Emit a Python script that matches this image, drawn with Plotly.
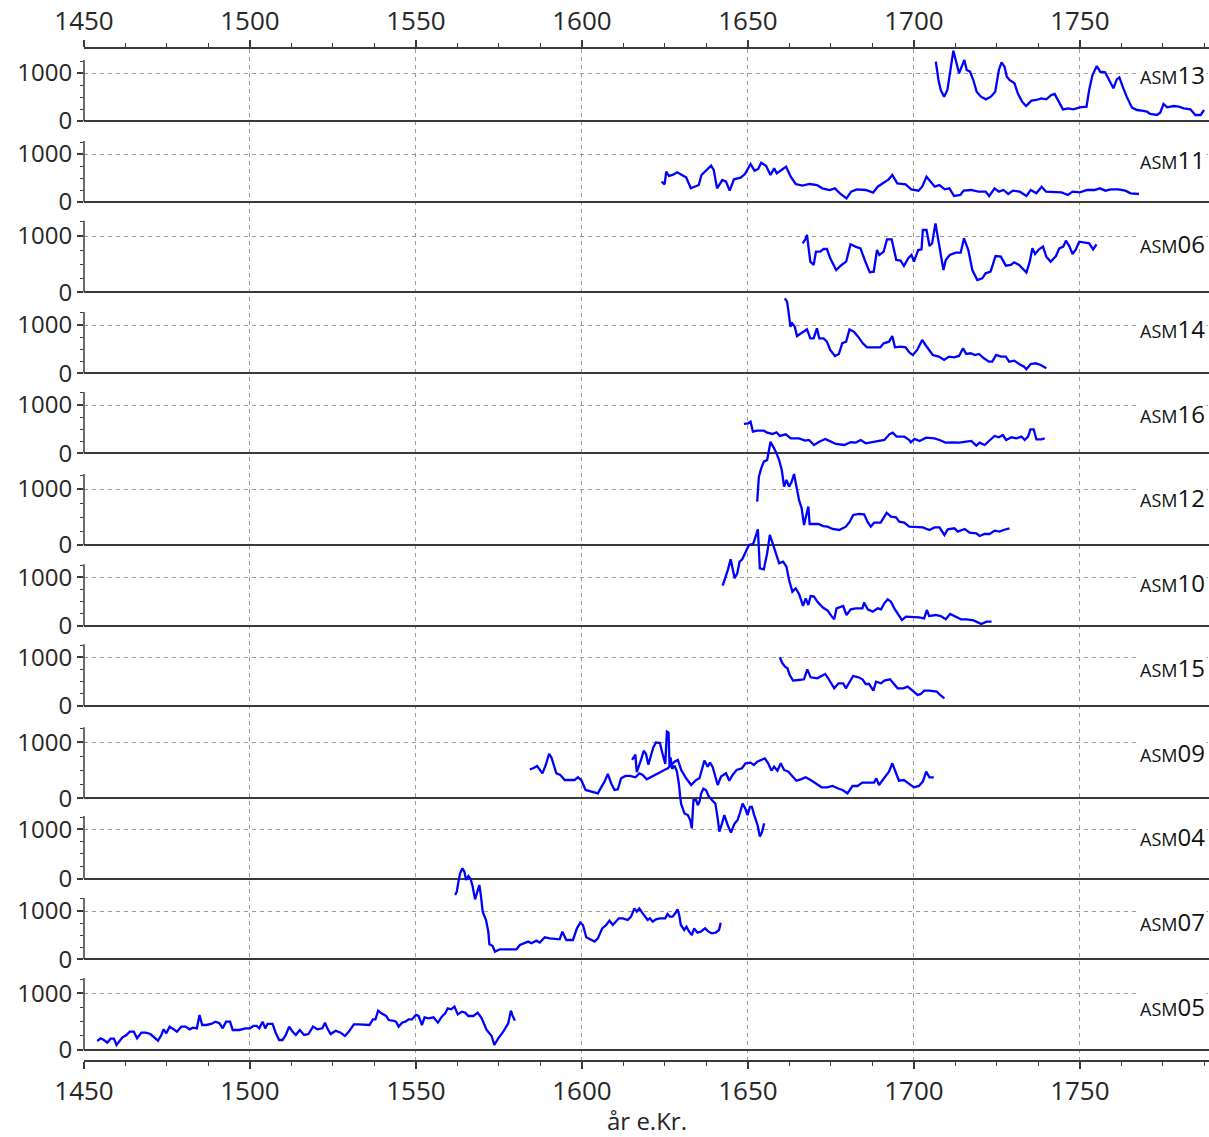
import plotly.graph_objects as go

# ---- series: year and value per core ----
asm13_year = [1706.6, 1707.4, 1708.1, 1709.1, 1710.1, 1711.1, 1711.9, 1712.6, 1713.6, 1714.4, 1715.2, 1715.9,
              1716.9, 1717.9, 1718.9, 1720.2, 1721.7, 1723.2, 1724.5, 1725.6, 1726.4, 1727.3, 1728.0, 1728.8,
              1730.3, 1731.3, 1732.6, 1733.8, 1735.4, 1736.9, 1738.4, 1739.9, 1741.4, 1742.4, 1743.4, 1744.9,
              1746.5, 1748.0, 1750.0, 1752.0, 1752.8, 1753.8, 1755.1, 1756.1, 1757.6, 1758.9, 1760.1, 1761.1,
              1761.9, 1762.9, 1764.1, 1765.7, 1767.2, 1768.7, 1770.2, 1771.2, 1773.2, 1774.2, 1775.2, 1776.3,
              1778.3, 1779.8, 1781.3, 1783.3, 1784.8, 1786.4, 1787.4]
asm13_val = [1236, 854, 646, 507, 646, 1063, 1465, 1271, 993, 1132, 1271, 1063,
             1028, 854, 611, 507, 451, 507, 611, 1063, 1222, 1132, 924, 854,
             785, 576, 403, 312, 424, 438, 472, 451, 542, 563, 438, 243,
             264, 243, 285, 299, 646, 958, 1146, 1028, 1014, 854, 681, 868,
             910, 715, 507, 278, 229, 215, 194, 146, 125, 174, 354, 285,
             312, 299, 264, 243, 125, 125, 229]

asm11_year = [1624.0, 1624.9, 1625.4, 1626.2, 1627.3, 1628.7, 1630.1, 1631.4, 1632.8, 1634.2, 1635.2, 1636.0,
              1637.4, 1638.9, 1639.7, 1640.7, 1642.3, 1643.4, 1644.5, 1645.8, 1647.8, 1649.1, 1650.8, 1652.0,
              1653.1, 1654.0, 1655.5, 1656.8, 1657.9, 1658.7, 1660.1, 1661.5, 1662.9, 1664.4, 1666.4, 1668.6,
              1670.8, 1672.4, 1674.6, 1676.2, 1677.9, 1679.7, 1681.1, 1682.8, 1685.5, 1687.7, 1689.1, 1690.7,
              1692.4, 1693.5, 1695.0, 1697.5, 1699.2, 1701.4, 1702.5, 1703.8, 1705.0, 1706.3, 1707.7, 1709.3,
              1710.7, 1712.1, 1714.0, 1715.0, 1717.2, 1719.4, 1721.6, 1722.7, 1724.3, 1725.6, 1727.0, 1728.4,
              1729.8, 1731.9, 1733.9, 1735.2, 1736.9, 1738.5, 1739.8, 1742.3, 1744.5, 1746.4, 1747.8, 1750.0,
              1752.2, 1754.4, 1756.0, 1757.7, 1759.3, 1761.5, 1763.7, 1765.3, 1767.8]
asm11_val = [424, 368, 632, 542, 563, 618, 563, 514, 285, 319, 354, 563,
             667, 757, 667, 285, 458, 424, 236, 472, 507, 583, 792, 653,
             688, 819, 750, 563, 701, 597, 667, 736, 528, 375, 340, 375,
             354, 285, 250, 285, 167, 76, 215, 264, 250, 194, 319, 389,
             472, 563, 389, 368, 264, 236, 319, 528, 424, 319, 354, 264,
             285, 125, 146, 236, 250, 215, 215, 125, 285, 215, 250, 167,
             236, 215, 125, 250, 181, 319, 215, 201, 201, 146, 215, 201,
             250, 250, 285, 236, 264, 264, 236, 181, 167]

asm06_year = [1666.5, 1667.3, 1667.8, 1668.3, 1668.8, 1669.8, 1670.5, 1671.8, 1672.8, 1673.8, 1674.8, 1676.6,
              1678.2, 1679.6, 1680.9, 1682.4, 1683.9, 1685.2, 1686.7, 1687.9, 1688.9, 1689.6, 1690.9, 1691.9,
              1693.3, 1694.7, 1696.0, 1697.0, 1698.3, 1699.3, 1700.0, 1701.3, 1702.3, 1702.7, 1703.8, 1704.7,
              1705.5, 1706.5, 1707.3, 1708.0, 1708.9, 1709.6, 1710.8, 1712.6, 1714.1, 1715.1, 1716.4, 1717.6,
              1719.1, 1720.6, 1721.6, 1723.1, 1724.6, 1726.2, 1727.7, 1729.2, 1730.2, 1731.7, 1732.9, 1733.9,
              1734.9, 1735.7, 1736.5, 1737.7, 1738.9, 1739.9, 1741.2, 1742.8, 1743.8, 1745.0, 1745.8, 1746.8,
              1747.8, 1748.8, 1749.8, 1751.3, 1752.8, 1754.0, 1755.0]
asm06_val = [870, 941, 1018, 811, 544, 485, 722, 722, 769, 769, 604, 396,
             485, 544, 852, 811, 781, 574, 355, 367, 751, 663, 722, 941,
             941, 574, 562, 467, 604, 663, 544, 751, 763, 1107, 1107, 822,
             870, 1225, 959, 722, 396, 574, 663, 704, 704, 959, 751, 396,
             219, 249, 337, 367, 645, 633, 473, 485, 533, 485, 408, 349,
             544, 781, 680, 763, 811, 633, 544, 645, 781, 811, 917, 822,
             680, 763, 899, 882, 870, 763, 852]

asm14_year = [1661.1, 1661.8, 1662.3, 1662.8, 1663.3, 1664.1, 1664.8, 1665.8, 1666.8, 1667.8, 1668.8, 1669.8,
              1670.8, 1671.5, 1672.8, 1673.8, 1674.8, 1676.2, 1677.4, 1678.4, 1679.6, 1680.6, 1681.9, 1683.2,
              1684.6, 1685.9, 1687.9, 1689.9, 1690.9, 1692.5, 1693.5, 1694.3, 1696.0, 1697.5, 1698.7, 1699.7,
              1701.0, 1702.5, 1703.5, 1704.5, 1705.7, 1707.5, 1709.1, 1710.6, 1712.1, 1713.6, 1714.8, 1715.8,
              1717.1, 1718.4, 1719.6, 1721.1, 1722.6, 1723.6, 1724.8, 1726.2, 1727.7, 1728.7, 1730.2, 1731.7,
              1733.2, 1733.9, 1735.2, 1736.7, 1738.2, 1739.9]
asm14_val = [1552, 1483, 1241, 966, 1034, 966, 772, 814, 862, 910, 724, 724,
             931, 724, 724, 655, 483, 359, 400, 621, 655, 910, 862, 759,
             621, 538, 538, 538, 621, 655, 772, 538, 552, 538, 428, 379,
             483, 690, 586, 483, 379, 345, 276, 345, 331, 359, 517, 400,
             414, 379, 400, 310, 241, 241, 379, 345, 345, 241, 262, 193,
             138, 83, 193, 207, 172, 103]

asm16_year = [1648.8, 1650.1, 1650.8, 1651.5, 1652.8, 1654.8, 1655.8, 1657.4, 1658.6, 1659.6, 1661.4, 1662.9,
              1665.4, 1667.2, 1668.4, 1669.9, 1671.5, 1673.3, 1675.0, 1676.5, 1679.0, 1681.0, 1682.5, 1684.0,
              1685.5, 1687.5, 1689.5, 1691.1, 1692.6, 1693.6, 1694.8, 1697.1, 1698.6, 1699.1, 1700.2, 1701.7,
              1703.7, 1706.2, 1707.7, 1709.5, 1711.7, 1713.7, 1715.8, 1717.3, 1718.8, 1719.8, 1721.3, 1722.8,
              1724.3, 1725.6, 1726.8, 1727.8, 1729.4, 1730.9, 1732.4, 1733.4, 1734.4, 1735.1, 1736.1, 1736.9,
              1738.4, 1739.4]
asm16_val = [607, 621, 655, 448, 469, 469, 428, 400, 434, 359, 393, 310,
             310, 262, 276, 172, 241, 297, 241, 193, 172, 228, 221, 276,
             207, 228, 255, 276, 393, 428, 345, 345, 276, 228, 297, 255,
             324, 310, 276, 221, 228, 221, 241, 255, 159, 221, 172, 276,
             359, 331, 379, 276, 331, 310, 345, 276, 345, 497, 497, 290,
             290, 310]

asm12_year = [1652.8, 1653.3, 1654.0, 1654.8, 1655.8, 1656.3, 1656.8, 1657.6, 1658.4, 1659.4, 1660.2, 1660.9,
              1661.6, 1662.4, 1663.2, 1663.9, 1664.6, 1665.4, 1666.2, 1666.9, 1667.6, 1668.2, 1668.6, 1669.9,
              1671.2, 1672.7, 1674.0, 1675.5, 1677.5, 1679.5, 1680.7, 1681.7, 1683.5, 1685.0, 1686.0, 1687.0,
              1688.0, 1690.0, 1691.8, 1693.1, 1694.6, 1695.6, 1697.1, 1698.6, 1700.7, 1702.7, 1704.7, 1706.2,
              1707.7, 1709.2, 1710.2, 1712.2, 1713.2, 1715.3, 1716.8, 1718.8, 1719.8, 1721.3, 1722.8, 1724.3,
              1725.8, 1727.0, 1728.8]
asm12_val = [774, 1220, 1369, 1488, 1518, 1696, 1845, 1756, 1667, 1518, 1339, 1042,
             1161, 1042, 1131, 1268, 1042, 804, 655, 357, 536, 685, 375, 375,
             375, 339, 327, 286, 268, 327, 417, 536, 554, 548, 417, 327,
             399, 399, 577, 506, 494, 417, 399, 327, 315, 315, 268, 315,
             315, 179, 280, 298, 238, 286, 220, 208, 161, 196, 196, 256,
             238, 268, 298]

asm10_year = [1642.4, 1643.2, 1644.0, 1644.8, 1645.3, 1646.0, 1646.8, 1647.5, 1648.3, 1649.3, 1650.3, 1651.6,
              1652.3, 1653.0, 1653.6, 1654.8, 1655.8, 1656.6, 1657.6, 1658.6, 1659.4, 1660.6, 1661.6, 1662.4,
              1663.4, 1664.4, 1665.4, 1666.6, 1667.4, 1668.2, 1668.9, 1669.9, 1670.9, 1672.5, 1674.0, 1675.3,
              1676.0, 1676.7, 1677.7, 1678.7, 1679.7, 1681.0, 1682.5, 1684.5, 1685.0, 1686.1, 1687.6, 1689.1,
              1690.1, 1691.1, 1692.1, 1693.1, 1694.1, 1695.6, 1696.4, 1697.6, 1699.6, 1701.6, 1703.1, 1703.9,
              1704.6, 1706.6, 1708.1, 1709.6, 1710.9, 1712.7, 1714.2, 1715.8, 1717.6, 1718.8, 1720.3, 1721.9,
              1723.4]
asm10_val = [829, 979, 1164, 1370, 1219, 979, 1082, 1322, 1370, 1527, 1664, 1685,
             1836, 1986, 1185, 1164, 1493, 1870, 1664, 1425, 1288, 1322, 1219, 945,
             705, 774, 658, 411, 568, 432, 616, 603, 500, 384, 315, 192,
             137, 363, 384, 411, 226, 342, 363, 363, 479, 342, 295, 363,
             342, 466, 548, 500, 363, 192, 123, 192, 192, 178, 158, 329,
             205, 226, 205, 137, 247, 178, 137, 137, 123, 89, 41, 89,
             89]

asm15_year = [1659.6, 1660.4, 1661.2, 1661.9, 1662.6, 1663.6, 1665.2, 1666.9, 1667.9, 1668.9, 1670.9, 1671.9,
              1673.3, 1674.5, 1676.0, 1677.3, 1678.7, 1679.5, 1680.5, 1681.7, 1683.3, 1684.5, 1685.5, 1686.5,
              1687.8, 1688.6, 1690.1, 1691.1, 1692.8, 1694.1, 1695.1, 1696.8, 1698.1, 1699.6, 1701.1, 1702.1,
              1703.1, 1704.6, 1706.9, 1707.9, 1709.2]
asm15_val = [1000, 877, 808, 774, 637, 521, 534, 548, 753, 589, 568, 603,
             658, 534, 363, 466, 466, 363, 466, 616, 589, 548, 452, 452,
             315, 500, 466, 521, 548, 432, 363, 363, 397, 315, 226, 247,
             315, 315, 295, 226, 158]

asm09_year = [1584.3, 1585.3, 1586.5, 1587.3, 1588.1, 1589.1, 1590.1, 1590.8, 1591.5, 1592.3, 1593.5, 1594.8,
              1596.5, 1597.8, 1598.8, 1599.8, 1601.1, 1602.8, 1604.8, 1605.8, 1606.8, 1607.8, 1608.8, 1609.8,
              1610.8, 1611.8, 1613.1, 1614.5, 1616.1, 1617.3, 1618.3, 1619.5, 1620.8, 1622.1, 1623.3, 1624.8,
              1625.9, 1626.9, 1627.9, 1628.9, 1629.9, 1631.4, 1632.9, 1634.4, 1635.4, 1636.9, 1637.9, 1638.6,
              1639.4, 1640.9, 1641.9, 1643.4, 1644.4, 1645.4, 1646.6, 1648.2, 1649.3, 1650.8, 1651.8, 1652.8,
              1654.3, 1655.1, 1656.1, 1657.1, 1657.9, 1658.9, 1659.9, 1660.9, 1662.2, 1663.4, 1664.6, 1665.9,
              1667.4, 1668.9, 1670.4, 1672.2, 1673.9, 1675.5, 1677.0, 1678.5, 1680.0, 1681.5, 1683.0, 1684.5,
              1686.5, 1688.0, 1688.7, 1689.5, 1691.0, 1692.5, 1693.5, 1694.5, 1695.5, 1697.0, 1698.5, 1700.0,
              1701.5, 1702.7, 1703.7, 1704.7, 1706.0]
asm09_val = [518, 536, 577, 506, 446, 595, 792, 732, 595, 446, 417, 327,
             327, 327, 375, 327, 149, 119, 89, 196, 298, 435, 268, 149,
             161, 357, 399, 399, 375, 446, 417, 339, 375, 417, 458, 506,
             536, 595, 655, 685, 506, 357, 238, 327, 357, 673, 565, 637,
             554, 238, 387, 446, 315, 417, 506, 536, 625, 637, 595, 655,
             696, 714, 625, 494, 565, 494, 625, 506, 476, 387, 315, 339,
             375, 327, 268, 196, 196, 220, 179, 149, 89, 220, 220, 280,
             280, 280, 357, 238, 357, 476, 625, 476, 315, 327, 268, 196,
             220, 298, 476, 375, 375]

asm04_year = [1615.1, 1615.6, 1616.1, 1616.5, 1617.1, 1617.8, 1618.6, 1619.3, 1620.0, 1620.8, 1621.5, 1622.3,
              1623.5, 1624.3, 1625.1, 1625.6, 1626.1, 1626.4, 1626.7, 1627.2, 1627.9, 1628.6, 1629.2, 1629.6,
              1629.9, 1630.9, 1631.9, 1632.6, 1633.1, 1633.6, 1634.4, 1634.9, 1635.4, 1635.9, 1636.6, 1637.4,
              1638.2, 1639.2, 1640.2, 1640.9, 1641.4, 1642.2, 1642.9, 1643.9, 1644.9, 1645.9, 1646.9, 1647.6,
              1648.4, 1649.2, 1649.9, 1650.6, 1651.2, 1651.9, 1652.9, 1653.6, 1654.2, 1654.9]
asm04_val = [2409, 2463, 2517, 2161, 2262, 2409, 2597, 2530, 2315, 2530, 2664, 2765,
             2752, 2530, 2329, 2987, 2966, 2262, 2463, 2228, 2295, 2181, 1926, 1658,
             1510, 1322, 1289, 1188, 1020, 1591, 1591, 1490, 1557, 1725, 1826, 1792,
             1671, 1591, 1523, 1221, 953, 1121, 1289, 1087, 933, 1107, 1188, 1336,
             1523, 1423, 1289, 1456, 1456, 1289, 1087, 852, 933, 1121]

asm07_year = [1561.8, 1562.3, 1562.8, 1563.3, 1564.0, 1564.6, 1565.1, 1565.8, 1566.5, 1567.1, 1567.8, 1568.5,
              1569.1, 1569.6, 1570.1, 1571.1, 1571.8, 1572.1, 1573.1, 1573.8, 1575.3, 1577.3, 1580.3, 1581.3,
              1582.8, 1583.8, 1584.8, 1586.3, 1587.3, 1588.8, 1590.3, 1592.3, 1593.3, 1594.1, 1595.3, 1597.3,
              1598.5, 1599.5, 1600.3, 1601.3, 1602.3, 1603.8, 1604.8, 1606.1, 1607.3, 1608.3, 1609.3, 1610.3,
              1611.1, 1612.3, 1613.8, 1614.8, 1615.8, 1616.5, 1617.3, 1618.3, 1619.8, 1620.5, 1621.3, 1622.3,
              1623.5, 1625.1, 1625.8, 1626.5, 1627.3, 1628.1, 1628.8, 1629.3, 1629.8, 1630.8, 1631.5, 1632.3,
              1633.1, 1633.8, 1634.8, 1635.8, 1637.1, 1638.1, 1639.1, 1640.3, 1641.3, 1641.8]
asm07_val = [1331, 1400, 1607, 1779, 1883, 1814, 1641, 1724, 1655, 1503, 1241, 1400,
             1538, 1297, 986, 814, 572, 317, 276, 159, 207, 207, 207, 297,
             331, 366, 331, 386, 345, 455, 434, 414, 414, 572, 400, 400,
             641, 759, 710, 455, 414, 366, 434, 641, 710, 800, 710, 800,
             848, 848, 814, 883, 1055, 986, 1055, 952, 814, 848, 779, 828,
             848, 848, 938, 883, 883, 952, 1034, 917, 710, 607, 676, 572,
             503, 641, 552, 572, 641, 572, 538, 552, 607, 759]

asm05_year = [1454.0, 1455.0, 1456.0, 1457.0, 1458.0, 1459.0, 1459.8, 1460.6, 1461.6, 1462.8, 1463.8, 1465.0,
              1466.0, 1467.3, 1468.6, 1470.0, 1471.3, 1472.3, 1473.3, 1474.0, 1474.8, 1475.8, 1477.0, 1478.0,
              1479.3, 1480.6, 1481.8, 1482.8, 1484.0, 1484.8, 1485.6, 1486.8, 1488.3, 1489.6, 1490.8, 1491.8,
              1492.8, 1494.0, 1494.8, 1496.8, 1498.6, 1500.0, 1501.0, 1502.0, 1502.8, 1503.8, 1504.6, 1505.3,
              1506.8, 1507.8, 1508.8, 1509.8, 1510.8, 1511.8, 1512.8, 1513.8, 1515.0, 1516.3, 1517.6, 1519.0,
              1520.3, 1521.8, 1522.6, 1523.3, 1524.3, 1525.8, 1527.3, 1528.6, 1529.8, 1531.3, 1532.8, 1534.8,
              1536.0, 1537.0, 1537.8, 1538.6, 1539.6, 1541.0, 1541.8, 1543.3, 1544.0, 1544.8, 1545.8, 1546.8,
              1547.8, 1548.8, 1550.0, 1550.8, 1551.8, 1552.6, 1553.8, 1555.3, 1556.6, 1557.8, 1558.8, 1559.6,
              1560.6, 1561.6, 1562.6, 1563.8, 1564.8, 1565.8, 1567.3, 1568.6, 1569.8, 1571.3, 1572.8, 1573.6,
              1574.8, 1576.3, 1577.8, 1578.6, 1579.0, 1579.8]
asm05_val = [159, 206, 176, 129, 200, 200, 88, 147, 224, 265, 324, 324,
             206, 306, 306, 282, 206, 165, 265, 365, 294, 412, 365, 324,
             412, 412, 365, 394, 382, 618, 441, 441, 459, 500, 471, 382,
             500, 500, 353, 353, 382, 382, 424, 424, 382, 500, 382, 459,
             459, 294, 176, 176, 265, 412, 324, 265, 353, 265, 282, 412,
             365, 382, 482, 382, 282, 341, 306, 247, 324, 453, 453, 441,
             441, 541, 541, 694, 647, 600, 529, 512, 500, 412, 482, 500,
             541, 541, 618, 600, 441, 576, 559, 576, 482, 588, 647, 735,
             718, 765, 629, 676, 659, 600, 600, 659, 559, 353, 247, 88,
             206, 324, 471, 694, 618, 518]

# panel order, top to bottom
panel_names = ["ASM13", "ASM11", "ASM06", "ASM14", "ASM16", "ASM12",
               "ASM10", "ASM15", "ASM09", "ASM04", "ASM07", "ASM05"]
panel_years = [asm13_year, asm11_year, asm06_year, asm14_year, asm16_year, asm12_year,
               asm10_year, asm15_year, asm09_year, asm04_year, asm07_year, asm05_year]
panel_vals = [asm13_val, asm11_val, asm06_val, asm14_val, asm16_val, asm12_val,
              asm10_val, asm15_val, asm09_val, asm04_val, asm07_val, asm05_val]

y_ticks = [0, 1000]
y_minor = [250, 500, 750, 1250]
x_range = [1450, 1788.9]

# ---- layout geometry (pixels) ----
W, H = 1209, 1137
TOP, BOTTOM = 49, 1060          # plot area edges
LEFT = 84
# pixel row of each panel's 0 line, 1000 line and name label
zero_px = [121, 202, 292.3, 373.3, 453.3, 545, 626, 706, 798.3, 878.5, 959.3, 1050]
k_px = [73, 154, 236, 325, 405, 489, 577.3, 657.3, 742.3, 829.3, 911, 993.3]
label_px = [74, 159, 243, 328, 413, 497, 582, 667, 752, 836, 921, 1006]

FONT = "Open Sans"
TXT = "#262626"
AX = "#3a3a3a"

fig = go.Figure()
layout = dict(
    width=W, height=H,
    margin=dict(l=LEFT, r=0, t=TOP, b=H - BOTTOM, pad=0),
    paper_bgcolor="white", plot_bgcolor="white",
    showlegend=False,
    font=dict(family=FONT, size=24, color=TXT),
)

shapes = []
annotations = []
for i, (name, xs, ys) in enumerate(zip(panel_names, panel_years, panel_vals)):
    ax_id = "y" if i == 0 else f"y{i + 1}"
    ax_key = "yaxis" if i == 0 else f"yaxis{i + 1}"
    per = 1000.0 / (zero_px[i] - k_px[i])
    lo = -(BOTTOM - zero_px[i]) * per
    hi = (zero_px[i] - TOP) * per
    ax = dict(
        domain=[0, 1], range=[lo, hi], anchor="x", side="left",
        tickmode="array", tickvals=y_ticks, ticktext=[str(v) for v in y_ticks],
        ticks="outside", ticklen=6, tickwidth=1.5, tickcolor=AX,
        tickfont=dict(family=FONT, size=24, color=TXT),
        showgrid=True, gridcolor="#9a9a9a", gridwidth=1, griddash="4px,4px",
        zeroline=True, zerolinecolor=AX, zerolinewidth=1.6,
        showline=False, fixedrange=True,
        minor=dict(tickmode="array", tickvals=y_minor, ticks="outside",
                   ticklen=3, tickwidth=1.2, tickcolor=AX, showgrid=False),
    )
    if i > 0:
        ax["overlaying"] = "y"
    layout[ax_key] = ax

    fig.add_trace(go.Scatter(x=xs, y=ys, mode="lines", name=name,
                             xaxis="x", yaxis=ax_id,
                             line=dict(color="#0000ff", width=2.3)))

    # left spine of this panel
    shapes.append(dict(type="line", xref="paper", x0=0, x1=0,
                       yref=ax_id, y0=0, y1=1270,
                       line=dict(color=AX, width=1.5)))

    annotations.append(dict(
        xref="paper", x=0.9985, xanchor="right",
        yref=ax_id, y=1000, yanchor="middle", yshift=-(label_px[i] - k_px[i]),
        text=f"<span style='font-size:18px'>{name[:3]}</span>{name[3:]}",
        showarrow=False, bgcolor="white",
        font=dict(family=FONT, size=24, color="#111111"),
    ))

xcommon = dict(
    range=x_range, tickmode="linear", tick0=1450, dtick=50,
    ticks="outside", ticklen=7, tickwidth=1.5, tickcolor=AX,
    showline=True, linecolor=AX, linewidth=1.6,
    tickfont=dict(family=FONT, size=26, color=TXT),
    zeroline=False, fixedrange=True,
    minor=dict(dtick=12.5, ticks="outside", ticklen=4, tickwidth=1.2, tickcolor=AX, showgrid=False),
)
layout["xaxis"] = dict(xcommon, side="bottom", anchor="y",
                       showgrid=True, gridcolor="#9a9a9a", gridwidth=1, griddash="4px,4px")
layout["xaxis2"] = dict(xcommon, side="top", anchor="y", overlaying="x", matches="x", showgrid=False)

# empty trace so the top axis is rendered
fig.add_trace(go.Scatter(x=[], y=[], xaxis="x2", yaxis="y", showlegend=False))

annotations.append(dict(
    xref="paper", x=0.5, xanchor="center",
    yref="paper", y=-(1120 - BOTTOM) / (BOTTOM - TOP), yanchor="middle",
    text="år e.Kr.", showarrow=False,
    font=dict(family=FONT, size=24, color=TXT),
))

layout["shapes"] = shapes
layout["annotations"] = annotations
fig.update_layout(**layout)

fig.write_html("out.html")
